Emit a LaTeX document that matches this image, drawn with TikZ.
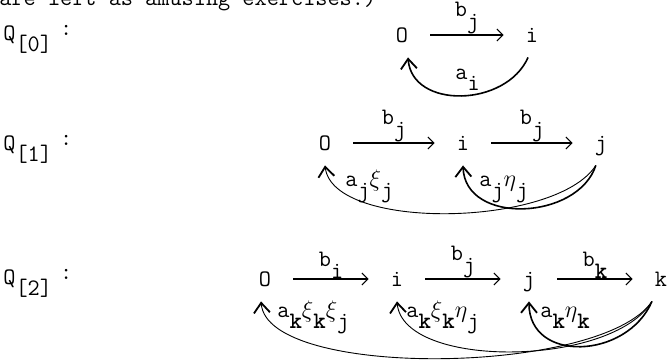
\documentclass[tikz,border=0pt]{standalone}
\usetikzlibrary{positioning, arrows.meta}
\newcommand\dn[1]{\raisebox{-.5em}{#1}}
\newcommand\bk{\textbf{k}}
\begin{document}
\begin{tikzpicture}[
    x=0.5pt, y=-0.5pt,
    node distance=66pt,
    every node/.style={
      inner sep=0pt,
      font=\fontsize{11.8}{14}\selectfont\ttfamily
    },
    vtx/.style={
      minimum width=26pt,
      minimum height=22pt,
      text height=7pt,
      text depth=0pt
    },
    fwd/.style={draw, line width=0.9pt, -{Straight Barb[length=3pt, width=6pt, line width=0.5pt]}, shorten <=1pt, shorten >=1pt},
    back/.style={draw, line width=0.8pt, -{Straight Barb[length=5pt, width=8pt, line width=0.9pt]}},
    faint/.style={back, line width=0.45pt},
    lbl/.style={anchor=base west}
  ]
    \useasboundingbox (0,0) rectangle (667,361);
    \clip (0,0) rectangle (667,361);
    \node[lbl] (top) at (-1,5) {are left as amusing exercises.)};

    \node[lbl] (q0) at (3,40) {Q\dn{[0]}\kern4pt\raisebox{.2em}{:}};
    \node[lbl] (q1) at (3,150) {Q\dn{[1]}\kern4pt\raisebox{.2em}{:}};
    \node[lbl] (q2) at (3,284) {Q\dn{[2]}\kern4pt\raisebox{.2em}{:}};

    \node[vtx] (o0) at (402,35) {O};
    \node[vtx, on grid, right=65pt of o0] (i0) {i};

    \node[vtx] (o1) at (325,143) {O};
    \node[vtx, on grid, right=69pt of o1] (i1) {i};
    \node[vtx, on grid, right=69pt of i1] (j1) {j};

    \node[vtx] (o2) at (265,279) {O};
    \node[vtx, on grid, right=66pt of o2] (i2) {i};
    \node[vtx, on grid, right=66pt of i2] (j2) {j};
    \node[vtx, on grid, right=66pt of j2] (k2) {k};

    \draw (o0) edge[fwd] node[above] {b\dn{j}} (i0);
    \draw (o1) edge[fwd] node[above] {b\dn{j}} (i1)
          (i1) edge[fwd] node[above] {b\dn{j}} (j1);
    \draw (o2) edge[fwd] node[above] {b\dn{i}} (i2)
          (i2) edge[fwd] node[above] {b\dn{j}} (j2)
          (j2) edge[fwd] node[above] {b\dn{\bk}} (k2);

    \draw[back] (i0.-100) .. controls +(-22,50) and +(4,52) .. (o0.-75);
    \draw[back] (j1.-103) .. controls +(-18,55) and +(2,60) .. (i1.south);
    \draw[faint] (j1.-103) .. controls +(-40,62) and +(8,66) .. (o1.south);
    \draw[back] (k2.-112) .. controls +(-25,58) and +(0,62) .. (j2.south);
    \draw[faint] (k2.-112) .. controls +(-40,66) and +(6,68) .. (i2.south);
    \draw[faint] (k2.-112) .. controls +(-50,74) and +(6,78) .. (o2.-100);

    \node[lbl] (l0) at (455,79) {a\dn{i}};
    \node[lbl] (l1) at (345,186) {a\dn{j}$\xi$\dn{j}};
    \node[lbl] (l2) at (479,186) {a\dn{j}$\eta$\dn{j}};
    \node[lbl] (l3) at (277,317) {a\dn{\bk}$\xi$\dn{\bk}$\xi$\dn{j}};
    \node[lbl] (l4) at (406,317) {a\dn{\bk}$\xi$\dn{\bk}$\eta$\dn{j}};
    \node[lbl] (l5) at (540,317) {a\dn{\bk}$\eta$\dn{\bk}};
\end{tikzpicture}
\end{document}
